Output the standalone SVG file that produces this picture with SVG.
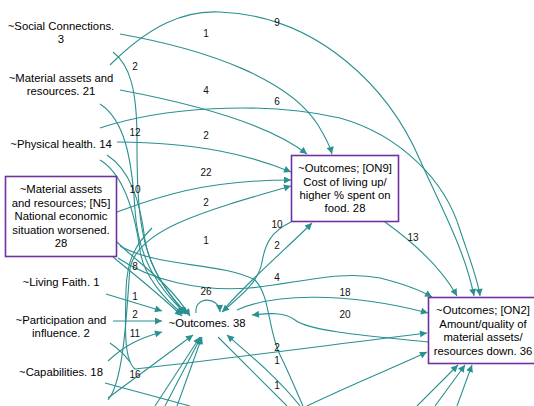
<svg xmlns="http://www.w3.org/2000/svg" width="534" height="406" viewBox="0 0 534 406">
<style>
.n{font-family:"Liberation Sans",Arial,sans-serif;font-size:11.3px;fill:#000;text-anchor:middle}
.l{font-family:"Liberation Sans",Arial,sans-serif;font-size:10px;fill:#111;text-anchor:middle}
.e{fill:none;stroke:#2b9090;stroke-width:1.1}
.box{fill:#fff;stroke:#7030a0;stroke-width:1.6}
</style>
<defs>
<marker id="a" viewBox="0 0 10 10" refX="10" refY="5" markerWidth="9" markerHeight="7" orient="auto" markerUnits="userSpaceOnUse"><path d="M0,0 L10,5 L0,10 z" fill="#2b9090"/></marker>
</defs>
<rect width="534" height="406" fill="#fff"/>
<g id="connectors">
<path class="e" marker-end="url(#a)" d="M110,65 C150,25 185,10 220,12 C320,16 390,90 420,160 C440,205 465,250 474,296"/>
<path class="e" marker-end="url(#a)" d="M100,128 C160,108 260,100 340,118 C400,135 445,180 460,230 C470,260 478,280 480,296"/>
<path class="e" marker-end="url(#a)" d="M120,34 C210,50 290,80 318,125 C326,138 330,146 332,154"/>
<path class="e" marker-end="url(#a)" d="M120,90 C200,105 270,125 307,154"/>
<path class="e" marker-end="url(#a)" d="M385,222 C410,240 440,265 457,296"/>
<path class="e" marker-end="url(#a)" d="M117,142 C200,143 250,155 291,172"/>
<path class="e" marker-end="url(#a)" d="M117,212 C150,200 200,180 291,180"/>
<path class="e" marker-end="url(#a)" d="M108,400 C125,380 127,300 130,268 C138,230 200,212 291,186"/>
<path class="e" d="M120,246 C160,268 220,262 255,280 C270,295 268,330 280,355 C290,375 298,395 303,406"/>
<path class="e" marker-end="url(#a)" d="M291,222 C270,232 265,245 262,262 C258,285 235,300 222,312"/>
<path class="e" marker-end="url(#a)" d="M225,308 C250,280 290,245 312,223"/>
<path class="e" marker-end="url(#a)" d="M196,313 C194,296 219,296 220,312"/>
<path class="e" marker-end="url(#a)" d="M237,310 C270,295 340,290 428,313"/>
<path class="e" marker-end="url(#a)" d="M428,342 C380,337 310,332 295,320 C285,312 270,313 252,315"/>
<path class="e" marker-end="url(#a)" d="M118,258 C150,280 200,292 250,288 C300,283 340,270 380,278 C400,283 420,290 432,297"/>
<path class="e" marker-end="url(#a)" d="M152,228 C135,245 127,260 126,290 C125,330 124,360 135,369 C200,362 330,345 427,333"/>
<path class="e" marker-end="url(#a)" d="M307,406 C350,385 400,365 427,352"/>
<path class="e" marker-end="url(#a)" d="M417,406 L458,365"/>
<path class="e" marker-end="url(#a)" d="M435,406 L465,365"/>
<path class="e" marker-end="url(#a)" d="M457,406 L472,365"/>
<path class="e" marker-end="url(#a)" d="M106,294 L162,311"/>
<path class="e" marker-end="url(#a)" d="M113,321 L162,321"/>
<path class="e" marker-end="url(#a)" d="M108,361 C125,345 140,338 162,332"/>
<path class="e" marker-end="url(#a)" d="M108,398 L193,335"/>
<path class="e" marker-end="url(#a)" d="M155,406 L200,337"/>
<path class="e" marker-end="url(#a)" d="M165,406 L201,337"/>
<path class="e" marker-end="url(#a)" d="M177,406 L202,337"/>
<path class="e" d="M218,337 L287,406"/>
<path class="e" marker-end="url(#a)" d="M300,406 C280,380 250,355 227,335"/>
<path class="e" d="M105,383 L190,406"/>
<path class="e" d="M110,343 C120,350 125,355 130,362"/>
<path class="e" marker-end="url(#a)" d="M113,52 C130,65 137,90 137,140 C137,220 140,270 188,314"/>
<path class="e" marker-end="url(#a)" d="M100,104 C125,120 132,160 135,210 C138,260 160,290 186,314"/>
<path class="e" marker-end="url(#a)" d="M107,155 C130,170 140,200 145,240 C150,270 170,295 185,314"/>
<path class="e" marker-end="url(#a)" d="M100,160 C125,175 135,215 140,250 C143,275 165,300 183,314"/>
<path class="e" marker-end="url(#a)" d="M117,242 C130,255 150,270 165,285 C175,295 183,305 190,316"/>
<path class="e" marker-end="url(#a)" d="M113,257 C135,275 160,295 182,316"/>
</g>
<g id="labels">
<text class="l" x="277" y="26">9</text>
<text class="l" x="206" y="37">1</text>
<text class="l" x="135" y="70">2</text>
<text class="l" x="206" y="94">4</text>
<text class="l" x="277" y="105">6</text>
<text class="l" x="135" y="136">12</text>
<text class="l" x="206" y="139">2</text>
<text class="l" x="206" y="176">22</text>
<text class="l" x="135" y="193">10</text>
<text class="l" x="206" y="206">2</text>
<text class="l" x="277" y="228">10</text>
<text class="l" x="413" y="241">13</text>
<text class="l" x="206" y="244">1</text>
<text class="l" x="277" y="249">2</text>
<text class="l" x="135" y="270">8</text>
<text class="l" x="277" y="281">4</text>
<text class="l" x="206" y="295">26</text>
<text class="l" x="345" y="296">18</text>
<text class="l" x="135" y="300">1</text>
<text class="l" x="135" y="318">2</text>
<text class="l" x="345" y="318">20</text>
<text class="l" x="135" y="337">11</text>
<text class="l" x="277" y="351">2</text>
<text class="l" x="277" y="364">1</text>
<text class="l" x="135" y="378">16</text>
<text class="l" x="277" y="389">1</text>
</g>
<g id="social"><text class="n" x="61" y="30">~Social Connections.</text><text class="n" x="61" y="43">3</text></g>
<g id="material"><text class="n" x="61" y="82">~Material assets and</text><text class="n" x="61" y="95">resources. 21</text></g>
<g id="physical"><text class="n" x="61" y="148">~Physical health. 14</text></g>
<g id="n5"><rect class="box" x="5.5" y="176.5" width="111" height="80"/>
<text class="n" x="61" y="193">~Material assets</text><text class="n" x="61" y="207">and resources; [N5]</text><text class="n" x="61" y="220">National economic</text><text class="n" x="61" y="234">situation worsened.</text><text class="n" x="61" y="247">28</text></g>
<g id="faith"><text class="n" x="61" y="286">~Living Faith. 1</text></g>
<g id="participation"><text class="n" x="61" y="324">~Participation and</text><text class="n" x="61" y="337">influence. 2</text></g>
<g id="capabilities"><text class="n" x="61" y="376">~Capabilities. 18</text></g>
<g id="outcomes"><text class="n" x="207" y="327">~Outcomes. 38</text></g>
<g id="on9"><rect class="box" x="291.5" y="155.5" width="107" height="66"/>
<text class="n" x="345" y="172">~Outcomes; [ON9]</text><text class="n" x="345" y="186">Cost of living up/</text><text class="n" x="345" y="199">higher % spent on</text><text class="n" x="345" y="212">food. 28</text></g>
<g id="on2"><rect class="box" x="428.5" y="297.5" width="112" height="66"/>
<text class="n" x="483" y="314">~Outcomes; [ON2]</text><text class="n" x="483" y="328">Amount/quality of</text><text class="n" x="483" y="341">material assets/</text><text class="n" x="483" y="355">resources down. 36</text></g>
</svg>
